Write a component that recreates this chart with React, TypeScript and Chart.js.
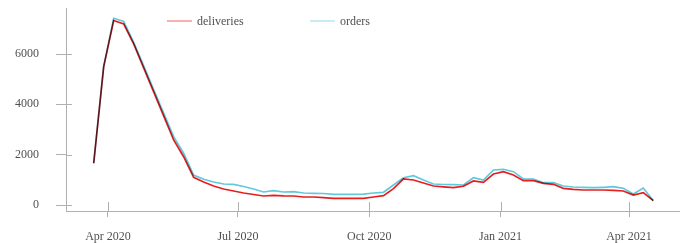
import React, { useEffect, useRef } from 'react';
import { Chart, registerables } from 'chart.js';

Chart.register(...registerables);

// Weekly periods (week start dates)
const weeks = [
  '2020-03-22', '2020-03-29', '2020-04-05', '2020-04-12', '2020-04-19', '2020-04-26',
  '2020-05-03', '2020-05-10', '2020-05-17', '2020-05-24', '2020-05-31',
  '2020-06-07', '2020-06-14', '2020-06-21', '2020-06-28',
  '2020-07-05', '2020-07-12', '2020-07-19', '2020-07-26',
  '2020-08-02', '2020-08-09', '2020-08-16', '2020-08-23', '2020-08-30',
  '2020-09-06', '2020-09-13', '2020-09-20', '2020-09-27',
  '2020-10-04', '2020-10-11', '2020-10-18', '2020-10-25',
  '2020-11-01', '2020-11-08', '2020-11-15', '2020-11-22', '2020-11-29',
  '2020-12-06', '2020-12-13', '2020-12-20', '2020-12-27',
  '2021-01-03', '2021-01-10', '2021-01-17', '2021-01-24', '2021-01-31',
  '2021-02-07', '2021-02-14', '2021-02-21', '2021-02-28',
  '2021-03-07', '2021-03-14', '2021-03-21', '2021-03-28',
  '2021-04-04', '2021-04-11', '2021-04-18',
];

const deliveries = [
  1658, 5499, 7330, 7197, 6400, 5447, 4493, 3539, 2584, 1920, 1101,
  914, 755, 636, 557, 477, 417, 358, 386, 366, 358, 318, 318, 290, 266,
  266, 266, 266, 318, 370, 648, 1034, 994, 875, 755, 724, 688, 744, 954,
  903, 1233, 1324, 1193, 966, 966, 863, 823, 664, 624, 596, 596, 596, 584,
  557, 398, 489, 171,
];

const orders = [
  1658, 5499, 7420, 7290, 6461, 5527, 4588, 3654, 2716, 2056, 1193,
  1022, 914, 835, 823, 736, 636, 517, 569, 517, 529, 477, 465, 457, 425,
  425, 425, 429, 477, 505, 795, 1085, 1165, 994, 835, 815, 807, 795, 1085,
  994, 1392, 1419, 1324, 1034, 1034, 887, 887, 755, 716, 704, 688, 704, 728,
  664, 437, 676, 171,
];

const seriesNames = ['deliveries', 'orders'];
const seriesColors = ['rgb(232, 30, 30)', 'rgb(98, 200, 222)'];
const legendColors = ['rgba(232, 30, 30, 0.35)', 'rgba(98, 200, 222, 0.35)'];

const tickDates = ['2020-04-01', '2020-07-01', '2020-10-01', '2021-01-01', '2021-04-01'];
const tickLabels = ['Apr 2020', 'Jul 2020', 'Oct 2020', 'Jan 2021', 'Apr 2021'];
const yTicks = [0, 2000, 4000, 6000];

const DAY = 86400000;
const ORIGIN = Date.UTC(2020, 3, 1);
const toDay = (s: string) => {
  const [y, m, d] = s.split('-').map(Number);
  return Math.round((Date.UTC(y, m - 1, d) - ORIGIN) / DAY);
};
const tickDays = tickDates.map(toDay);

const FONT_FAMILY = '"Liberation Serif", "Times New Roman", serif';
const TEXT_COLOR = '#505050';
const AXIS_COLOR = '#b0b0b0';

const multiplyPlugin = {
  id: 'multiplyBlend',
  beforeDatasetsDraw(chart: any) {
    chart.ctx.save();
    chart.ctx.globalCompositeOperation = 'multiply';
  },
  afterDatasetsDraw(chart: any) {
    chart.ctx.restore();
  },
};

const innerTicksPlugin = {
  id: 'innerTicks',
  beforeDatasetsDraw(chart: any) {
    const { ctx, chartArea } = chart;
    const xs = chart.scales.x;
    const ys = chart.scales.y;
    ctx.save();
    ctx.strokeStyle = AXIS_COLOR;
    ctx.lineWidth = 1;
    ctx.beginPath();
    ys.ticks.forEach((t: any) => {
      const py = Math.round(ys.getPixelForValue(t.value)) + 0.5;
      ctx.moveTo(chartArea.left, py);
      ctx.lineTo(chartArea.left + 6, py);
    });
    xs.ticks.forEach((t: any) => {
      const px = Math.round(xs.getPixelForValue(t.value)) + 0.5;
      ctx.moveTo(px, chartArea.bottom);
      ctx.lineTo(px, chartArea.bottom - 9);
    });
    ctx.stroke();
    ctx.restore();
  },
};

export default function App() {
  const canvasRef = useRef<HTMLCanvasElement | null>(null);

  useEffect(() => {
    document.body.style.margin = '0';
    const canvas = canvasRef.current;
    if (!canvas) return;
    const xDays = weeks.map(toDay);
    const series = [deliveries, orders];
    const chart = new Chart(canvas, {
      type: 'line',
      data: {
        datasets: series.map((vals, si) => ({
          label: seriesNames[si],
          data: vals.map((v, i) => ({ x: xDays[i], y: v })),
          borderColor: seriesColors[si],
          backgroundColor: seriesColors[si],
          borderWidth: 1.7,
          pointRadius: 0,
          tension: 0,
          fill: false,
        })),
      },
      options: {
        animation: false,
        responsive: true,
        maintainAspectRatio: false,
        layout: { padding: { top: 8, right: 0, left: 0, bottom: 0 } },
        plugins: {
          legend: { display: false },
          tooltip: { enabled: false },
        },
        scales: {
          x: {
            type: 'linear',
            min: -29.4,
            max: 400.7,
            afterBuildTicks: (s: any) => {
              s.ticks = tickDays.map((v) => ({ value: v }));
            },
            afterFit: (s: any) => {
              s.height = 32;
              s.paddingLeft = 0;
              s.paddingRight = 0;
            },
            ticks: {
              autoSkip: false,
              maxRotation: 0,
              padding: 13,
              color: TEXT_COLOR,
              font: { family: FONT_FAMILY, size: 12 },
              callback: (v: any) => {
                const i = tickDays.indexOf(v);
                return i >= 0 ? tickLabels[i] : '';
              },
            },
            grid: {
              drawOnChartArea: false,
              drawTicks: true,
              tickLength: 6,
              color: AXIS_COLOR,
              lineWidth: 1,
            },
            border: { display: true, color: AXIS_COLOR, width: 1 },
          },
          y: {
            type: 'linear',
            min: -238,
            max: 7828,
            afterBuildTicks: (s: any) => {
              s.ticks = yTicks.map((v) => ({ value: v }));
            },
            afterFit: (s: any) => {
              s.width = 66;
              s.paddingTop = 0;
              s.paddingBottom = 0;
            },
            ticks: {
              padding: 17,
              color: TEXT_COLOR,
              font: { family: FONT_FAMILY, size: 12 },
              callback: (v: any) => String(v),
            },
            grid: {
              drawOnChartArea: false,
              drawTicks: true,
              tickLength: 10,
              color: AXIS_COLOR,
              lineWidth: 1,
            },
            border: { display: true, color: AXIS_COLOR, width: 1 },
          },
        },
      },
      plugins: [innerTicksPlugin, multiplyPlugin],
    } as any);
    return () => chart.destroy();
  }, []);

  const legendLeft = [167, 310];

  return (
    <div style={{ position: 'relative', width: 680, height: 243 }}>
      <canvas ref={canvasRef} />
      {seriesNames.map((name, i) => (
        <div
          key={name}
          style={{
            position: 'absolute',
            left: legendLeft[i],
            top: 12,
            height: 18,
            display: 'flex',
            alignItems: 'center',
            fontFamily: FONT_FAMILY,
            fontSize: 12,
            color: TEXT_COLOR,
            whiteSpace: 'nowrap',
          }}
        >
          <span
            style={{
              display: 'inline-block',
              width: 25,
              height: 2,
              background: legendColors[i],
              marginRight: 5,
            }}
          />
          <span>{name}</span>
        </div>
      ))}
    </div>
  );
}
